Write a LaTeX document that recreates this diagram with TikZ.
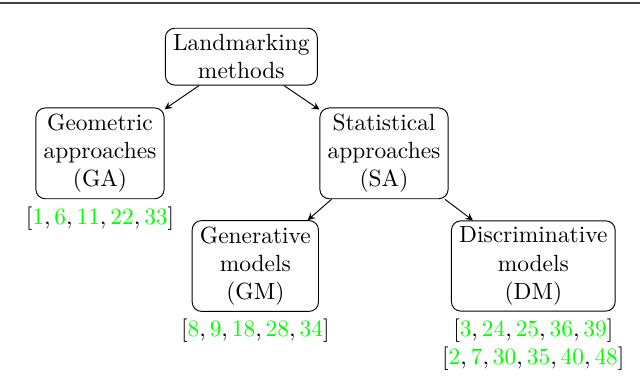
\documentclass[tikz,border=0pt]{standalone}
\usepackage{xcolor}

\newcommand{\gcite}[1]{\textcolor{green}{#1}}

\begin{document}
\begin{tikzpicture}[
  every node/.style={font=\normalsize},
  box/.style={draw, rounded corners=4pt, align=center, inner xsep=3.3pt, inner ysep=2.6pt},
  refs/.style={align=center, inner sep=3pt},
  scale=1.0
]
  \useasboundingbox (0,0) rectangle (9.6,-5.865);
  \draw[black!75, line width=0.9pt] (0,-0.045) -- (9.6,-0.045);

  \node[box] (lm) at (3.62, -0.85) {Landmarking\\methods};

  \node[box, label={[refs]below:$[\gcite{1},\gcite{6},\gcite{11},\gcite{22},\gcite{33}]$}]
    (ga) at (1.50, -2.30) {Geometric\\approaches\\(GA)};
  \node[box] (sa) at (5.76, -2.30) {Statistical\\approaches\\(SA)};

  \node[box, label={[refs]below:$[\gcite{8},\gcite{9},\gcite{18},\gcite{28},\gcite{34}]$}]
    (gm) at (3.83, -3.99) {Generative\\models\\(GM)};
  \node[box, label={[refs]below:$[\gcite{3},\gcite{24},\gcite{25},\gcite{36},\gcite{39}]$\\$[\gcite{2},\gcite{7},\gcite{30},\gcite{35},\gcite{40},\gcite{48}]$}]
    (dm) at (8.00, -3.99) {Discriminative\\models\\(DM)};

  \draw[-stealth] (lm) -- (ga);
  \draw[-stealth] (lm) -- (sa);

  \draw[-stealth] (sa) -- (gm);
  \draw[-stealth] (sa) -- (dm);
\end{tikzpicture}
\end{document}
